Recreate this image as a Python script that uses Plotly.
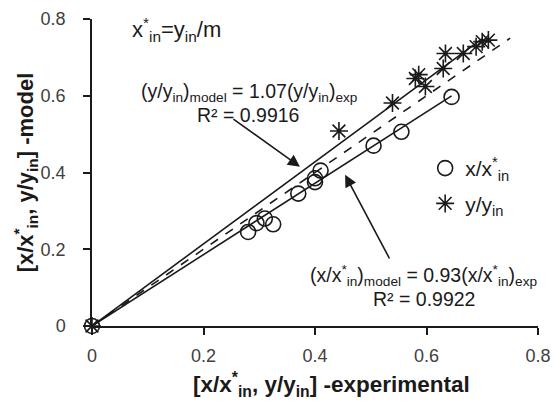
import plotly.graph_objects as go

# Dimensionless liquid (x/x*in) and gas (y/yin) concentrations: experiment vs model
x_exp = [0.0, 0.28, 0.295, 0.31, 0.325, 0.37, 0.40, 0.40, 0.41, 0.505, 0.555, 0.645]
x_mod = [0.0, 0.245, 0.268, 0.28, 0.265, 0.345, 0.375, 0.385, 0.405, 0.47, 0.506, 0.597]

y_exp = [0.0, 0.443, 0.539, 0.58, 0.586, 0.598, 0.63, 0.634, 0.666, 0.689, 0.70, 0.711]
y_mod = [0.0, 0.508, 0.581, 0.645, 0.655, 0.624, 0.671, 0.71, 0.71, 0.728, 0.741, 0.745]

# Fitted slopes through the origin
slope_y = 1.07
slope_x = 0.93
fit_y_x = [0.0, 0.70]
fit_x_x = [0.0, 0.645]
parity_x = [0.0, 0.75]

ticks = [0, 0.2, 0.4, 0.6, 0.8]
tick_text = ["0", "0.2", "0.4", "0.6", "0.8"]

FONT = "Liberation Sans, Arial, sans-serif"
INK = "#1a1a1a"

fig = go.Figure()

fig.add_trace(go.Scatter(x=fit_y_x, y=[slope_y * v for v in fit_y_x], mode="lines",
                         line=dict(color=INK, width=1.6), showlegend=False))
fig.add_trace(go.Scatter(x=parity_x, y=parity_x, mode="lines",
                         line=dict(color=INK, width=1.6, dash="dash"), showlegend=False))
fig.add_trace(go.Scatter(x=fit_x_x, y=[slope_x * v for v in fit_x_x], mode="lines",
                         line=dict(color=INK, width=1.6), showlegend=False))

fig.add_trace(go.Scatter(x=x_exp, y=x_mod, mode="markers", name="x/x<sup>*</sup><sub>in</sub>",
                         marker=dict(symbol="circle-open", size=15, color=INK, line=dict(width=1.6)),
                         cliponaxis=False, legendgroup="a"))
fig.add_trace(go.Scatter(x=y_exp, y=y_mod, mode="markers", name="y/y<sub>in</sub>",
                         marker=dict(symbol="asterisk-open", size=15, color=INK, line=dict(width=1.6)),
                         cliponaxis=False, legendgroup="b"))

ann_font = dict(family=FONT, size=19.5, color=INK)


def note(x, y, text, size=None, anchor="center"):
    f = dict(ann_font)
    if size:
        f["size"] = size
    fig.add_annotation(x=x, y=y, xref="x", yref="y", showarrow=False, xanchor=anchor,
                       text=text, font=f)


note(0.068, 0.772, "x<sup>*</sup><sub>in</sub>=y<sub>in</sub>/m", size=22, anchor="left")
note(0.282, 0.608, "(y/y<sub>in</sub>)<sub>model</sub> = 1.07(y/y<sub>in</sub>)<sub>exp</sub>")
note(0.28, 0.549, "R² = 0.9916")
note(0.594, 0.132, "(x/x<sup>*</sup><sub>in</sub>)<sub>model</sub> = 0.93(x/x<sup>*</sup><sub>in</sub>)<sub>exp</sub>")
note(0.595, 0.071, "R² = 0.9922")

# Arrows pointing at the two fitted lines
fig.add_annotation(x=0.373, y=0.415, ax=0.251, ay=0.542, xref="x", yref="y", axref="x", ayref="y",
                   text="", showarrow=True, arrowhead=2, arrowsize=1.5, arrowwidth=1.6, arrowcolor=INK)
fig.add_annotation(x=0.454, y=0.394, ax=0.535, ay=0.172, xref="x", yref="y", axref="x", ayref="y",
                   text="", showarrow=True, arrowhead=2, arrowsize=1.5, arrowwidth=1.6, arrowcolor=INK)

# Horizontal axis title, centred under the whole chart area
fig.add_annotation(x=0.536, y=-0.192, xref="paper", yref="paper", showarrow=False,
                   yanchor="middle",
                   text="<b>[x/x<sup>*</sup><sub>in</sub>, y/y<sub>in</sub>] -experimental</b>",
                   font=dict(family=FONT, size=22.5, color=INK))

axis_common = dict(range=[0, 0.8], tickvals=ticks, ticktext=tick_text, showgrid=False, zeroline=False,
                   showline=True, linecolor=INK, linewidth=1.5, ticks="outside", ticklen=7,
                   tickcolor=INK, tickwidth=1.5, automargin=False,
                   tickfont=dict(family=FONT, size=18, color="#404040"))

fig.update_xaxes(**axis_common, ticklabelstandoff=6)
fig.update_yaxes(**axis_common, ticklabelstandoff=14,
                 title=dict(text="<b>[x/x<sup>*</sup><sub>in</sub>, y/y<sub>in</sub>] -model</b>",
                            font=dict(family=FONT, size=22, color=INK), standoff=0))

fig.update_layout(
    width=553, height=404,
    margin=dict(l=92, r=15, t=19, b=78),
    paper_bgcolor="white", plot_bgcolor="white",
    font=dict(family=FONT, color=INK),
    legend=dict(x=0.747, y=0.58, xanchor="left", yanchor="top", bgcolor="rgba(0,0,0,0)",
                font=dict(family=FONT, size=21, color=INK), tracegroupgap=5, itemwidth=30),
)

fig.write_html("out.html")
